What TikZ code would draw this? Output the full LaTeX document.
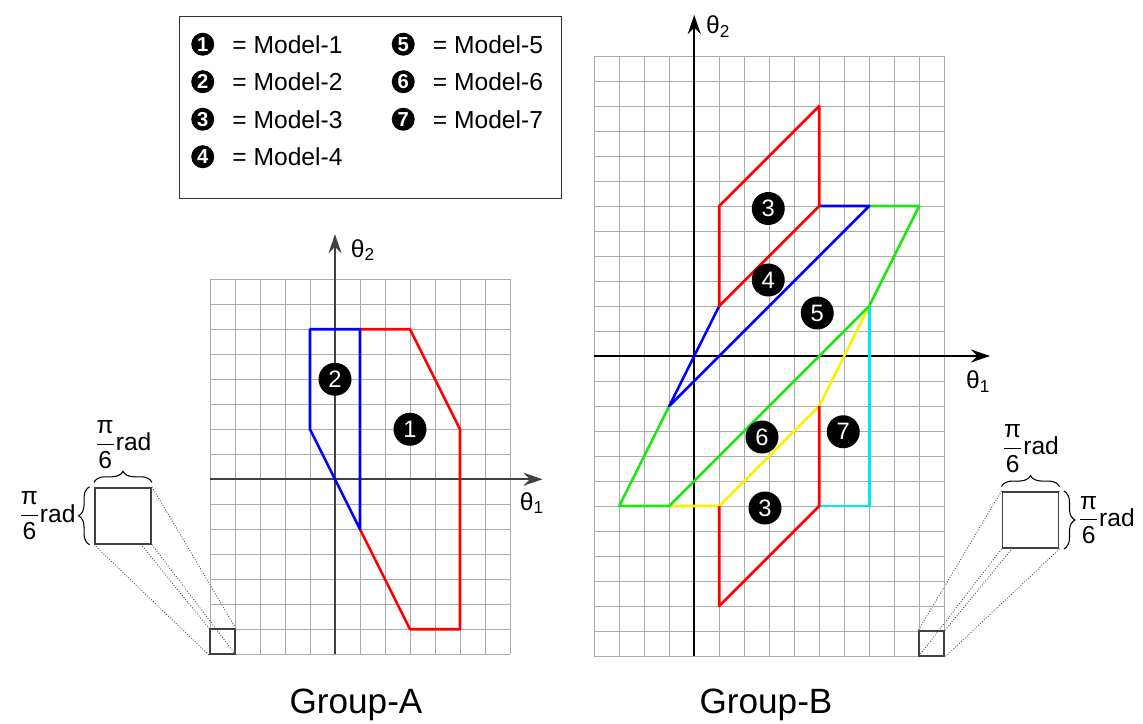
\documentclass[tikz,border=0pt]{standalone}
\usepackage{amsmath}
\usepackage{fontspec}
\setmainfont{Liberation Sans}
\usetikzlibrary{arrows.meta,decorations.pathreplacing,positioning,backgrounds}

\newcommand{\sixthrad}{$\dfrac{\text{π}}{\text{6}}$rad}

\begin{document}
\begin{tikzpicture}[x=0.5cm,y=0.5cm,
  gridline/.style={gray!65,line width=0.55pt},
  axisline/.style={-{Stealth[length=3.8mm,width=2.6mm,inset=1.3mm]},line width=1pt},
  region/.style={line width=1.5pt,line join=round},
  modnum/.style={circle,fill=black,text=white,inner sep=0pt,minimum size=0.66cm,font=\fontsize{13.5}{13.5}\selectfont},
  legnum/.style={circle,fill=black,text=white,inner sep=0pt,minimum size=0.46cm,font=\fontsize{11.5}{11.5}\selectfont\bfseries},
  legtext/.style={inner sep=0pt,font=\fontsize{14}{16}\selectfont},
  axislabel/.style={font=\fontsize{14}{16}\selectfont},
  cellbox/.style={draw=black!75,line width=1pt,inner sep=0pt,minimum size=0.5cm},
  bigbox/.style={draw=black!75,fill=white,line width=1.1pt,inner sep=0pt,minimum size=1.12cm},
  zoomline/.style={black!70,densely dotted,line width=0.5pt},
  sidebrace/.style={decorate,decoration={brace,amplitude=2.2mm},line width=0.6pt},
  radlabel/.style={inner sep=0pt,font=\fontsize{14}{16}\selectfont},
  grouplabel/.style={font=\fontsize{20}{24}\selectfont}]

  % Define colors
  \definecolor{modred}{RGB}{255,0,0}
  \definecolor{modblue}{RGB}{0,0,255}
  \definecolor{modgreen}{RGB}{30,230,20}
  \definecolor{modyellow}{RGB}{255,240,0}
  \definecolor{modcyan}{RGB}{0,230,255}

  \useasboundingbox (-13.4,-9.75) rectangle (32.32,19.17);

  % legend
  \draw[black!80,line width=0.8pt] (-6.23,11.24) rectangle (9.07,18.5);
  \node[legnum] (leg1) at (-5.29,17.4) {1};
  \node[legtext,right=3.5mm of leg1] (legtext1) {= Model-1};
  \node[legnum] (leg2) at (-5.29,15.9) {2};
  \node[legtext,right=3.5mm of leg2] (legtext2) {= Model-2};
  \node[legnum] (leg3) at (-5.29,14.4) {3};
  \node[legtext,right=3.5mm of leg3] (legtext3) {= Model-3};
  \node[legnum] (leg4) at (-5.29,12.9) {4};
  \node[legtext,right=3.5mm of leg4] (legtext4) {= Model-4};
  \node[legnum] (leg5) at (2.73,17.4) {5};
  \node[legtext,right=3.5mm of leg5] (legtext5) {= Model-5};
  \node[legnum] (leg6) at (2.73,15.9) {6};
  \node[legtext,right=3.5mm of leg6] (legtext6) {= Model-6};
  \node[legnum] (leg7) at (2.73,14.4) {7};
  \node[legtext,right=3.5mm of leg7] (legtext7) {= Model-7};

  % group A: grid and axes
  \draw[gridline,step=1] (-5,-7) grid (7,8);
  \draw[axisline,black!75] (-5,0) -- (8.3,0);
  \draw[axisline,black!75] (0,-7) -- (0,9.8);
  \node[axislabel] (thetaA1) at (7.88,-0.95) {θ\textsubscript{1}};
  \node[axislabel] (thetaA2) at (1.12,9.17) {θ\textsubscript{2}};

  % group A: model regions
  \draw[region,modred] (1,6) -- (3,6) -- (5,2) -- (5,-6) -- (3,-6) -- (1,-2);
  \draw[region,modblue] (1,-2) -- (1,6) -- (-1,6) -- (-1,2) -- cycle;
  \node[modnum] (numA1) at (3,2) {1};
  \node[modnum] (numA2) at (0,4) {2};

  % group A: one cell, magnified
  \node[cellbox] (cellA) at (-4.5,-6.5) {};
  \node[bigbox] (zoomA) at (-8.48,-1.46) {};
  \begin{scope}[on background layer]
    \draw[zoomline] (zoomA.north west) -- (cellA.north west);
    \draw[zoomline] (zoomA.north east) -- (cellA.north east);
    \draw[zoomline] (zoomA.south west) -- (cellA.south west);
    \draw[zoomline] (zoomA.south east) -- (cellA.south east);
  \end{scope}
  \draw[sidebrace] ([yshift=0.9mm]zoomA.north west) -- ([yshift=0.9mm]zoomA.north east)
    node[radlabel,midway,above=2.7mm] (radAtop) {\sixthrad};
  \draw[sidebrace] ([xshift=-0.9mm]zoomA.south west) -- ([xshift=-0.9mm]zoomA.north west)
    node[radlabel,midway,left=2.7mm] (radAside) {\sixthrad};

  \begin{scope}[shift={(14.37,4.93)}]
    % group B: grid and axes
    \draw[gridline,step=1] (-4,-12) grid (10,12);
    \draw[axisline] (-4,0) -- (11.83,0);
    \draw[axisline] (0,-12) -- (0,13.64);
    \node[axislabel] (thetaB1) at (11.36,-1.03) {θ\textsubscript{1}};
    \node[axislabel] (thetaB2) at (0.96,13.17) {θ\textsubscript{2}};

    % group B: model regions
    \draw[region,modyellow] (7,2) -- (5,-2) -- (1,-6) -- (-1,-6);
    \draw[region,modcyan] (7,2) -- (7,-6) -- (5,-6);
    \draw[region,modgreen] (7,6) -- (9,6) -- (7,2) -- (-1,-6) -- (-3,-6) -- (-1,-2);
    \draw[region,modblue] (5,6) -- (7,6) -- (-1,-2) -- (1,2);
    \draw[region,modred] (1,2) -- (1,6) -- (5,10) -- (5,6) -- cycle;
    \draw[region,modred] (5,-2) -- (5,-6) -- (1,-10) -- (1,-6);
    \node[modnum] (numB3) at (2.96,5.9) {3};
    \node[modnum] (numB4) at (2.96,3.04) {4};
    \node[modnum] (numB5) at (4.92,1.72) {5};
    \node[modnum] (numB6) at (2.71,-3.24) {6};
    \node[modnum] (numB7) at (5.96,-3.03) {7};
    \node[modnum] (numB3low) at (2.83,-6.08) {3};

    % group B: one cell, magnified
    \node[cellbox] (cellB) at (9.5,-11.5) {};
    \node[bigbox] (zoomB) at (13.45,-6.56) {};
    \begin{scope}[on background layer]
      \draw[zoomline] (zoomB.north west) -- (cellB.north west);
      \draw[zoomline] (zoomB.north east) -- (cellB.north east);
      \draw[zoomline] (zoomB.south west) -- (cellB.south west);
      \draw[zoomline] (zoomB.south east) -- (cellB.south east);
    \end{scope}
    \draw[sidebrace] ([yshift=0.9mm]zoomB.north west) -- ([yshift=0.9mm]zoomB.north east)
      node[radlabel,midway,above=2.7mm] (radBtop) {\sixthrad};
    \draw[sidebrace] ([xshift=0.9mm]zoomB.north east) -- ([xshift=0.9mm]zoomB.south east)
      node[radlabel,midway,right=2.7mm] (radBside) {\sixthrad};
  \end{scope}

  % group names
  \node[grouplabel] (groupA) at (0.84,-9.03) {Group-A};
  \node[grouplabel] (groupB) at (17.24,-9.03) {Group-B};

\end{tikzpicture}
\end{document}
